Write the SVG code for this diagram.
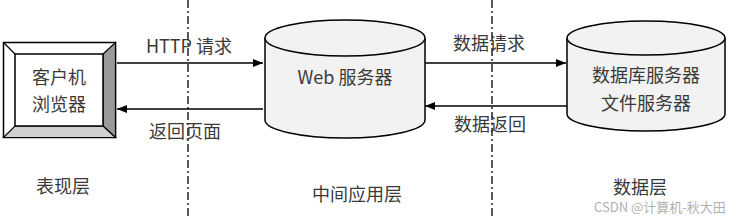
<svg xmlns="http://www.w3.org/2000/svg" width="737" height="216" viewBox="0 0 737 216">
<defs>
<marker id="arr" markerWidth="10" markerHeight="8" refX="10" refY="4" orient="auto" markerUnits="userSpaceOnUse">
<path d="M0,0 L10,4 L0,8 Z" fill="#000"/>
</marker>
<style>
.t{font-family:"Noto Sans CJK SC","Liberation Sans",sans-serif;font-size:18px;fill:#3a3a3a;text-anchor:middle;dominant-baseline:central}
.ln{stroke:#000;stroke-width:1.3;fill:none}
.sep{stroke:#000;stroke-width:1.3;stroke-dasharray:8 3 2 3;fill:none}
.cyl{fill:#f2f2f2;stroke:#000;stroke-width:1.5}
</style>
</defs>
<rect width="737" height="216" fill="#fff"/>
<g id="separators">
<line class="sep" x1="188" y1="0" x2="188" y2="216"/>
<line class="sep" x1="492" y1="0" x2="492" y2="216"/>
</g>
<g id="browser">
<rect x="3.5" y="42.5" width="112" height="95" fill="#fff" stroke="#000" stroke-width="1.5"/>
<polygon points="103,54 115.5,42.5 115.5,137.5 103,126" fill="#999" stroke="#000" stroke-width="1.2"/>
<polygon points="15,126 103,126 115.5,137.5 3.5,137.5" fill="#d0d0d0" stroke="#000" stroke-width="1.2"/>
<line x1="3.5" y1="42.5" x2="15" y2="54" stroke="#000" stroke-width="1.2"/>
<rect x="15" y="54" width="88" height="72" fill="#fff" stroke="#000" stroke-width="1.5"/>
<text class="t" x="59" y="76">客户机</text>
<text class="t" x="59" y="103">浏览器</text>
</g>
<g id="web">
<path class="cyl" d="M265,38 L265,120 A80,18 0 0 0 425,120 L425,38"/>
<ellipse class="cyl" cx="345" cy="38" rx="80" ry="18"/>
<text class="t" x="345" y="76">Web 服务器</text>
</g>
<g id="db">
<path class="cyl" d="M567,38 L567,114 A79,17 0 0 0 725,114 L725,38"/>
<ellipse class="cyl" cx="646" cy="38" rx="79" ry="17"/>
<text class="t" x="646" y="74">数据库服务器</text>
<text class="t" x="646" y="102">文件服务器</text>
</g>
<g id="connectors">
<line class="ln" x1="117" y1="63" x2="263" y2="63" marker-end="url(#arr)"/>
<line class="ln" x1="263" y1="109" x2="117" y2="109" marker-end="url(#arr)"/>
<line class="ln" x1="425" y1="63" x2="566" y2="63" marker-end="url(#arr)"/>
<line class="ln" x1="567" y1="106" x2="425" y2="106" marker-end="url(#arr)"/>
</g>
<g id="labels">
<text class="t" x="189" y="45">HTTP 请求</text>
<text class="t" x="185" y="130">返回页面</text>
<text class="t" x="489" y="42">数据请求</text>
<text class="t" x="490" y="123">数据返回</text>
<text class="t" x="63" y="185">表现层</text>
<text class="t" x="357" y="193">中间应用层</text>
<text class="t" x="640" y="186">数据层</text>
<text x="660" y="206" style="font-family:'Noto Sans CJK SC','Liberation Sans',sans-serif;font-size:13px;fill:#b0b0b0;text-anchor:middle;dominant-baseline:central">CSDN @计算机-秋大田</text>
</g>
</svg>
